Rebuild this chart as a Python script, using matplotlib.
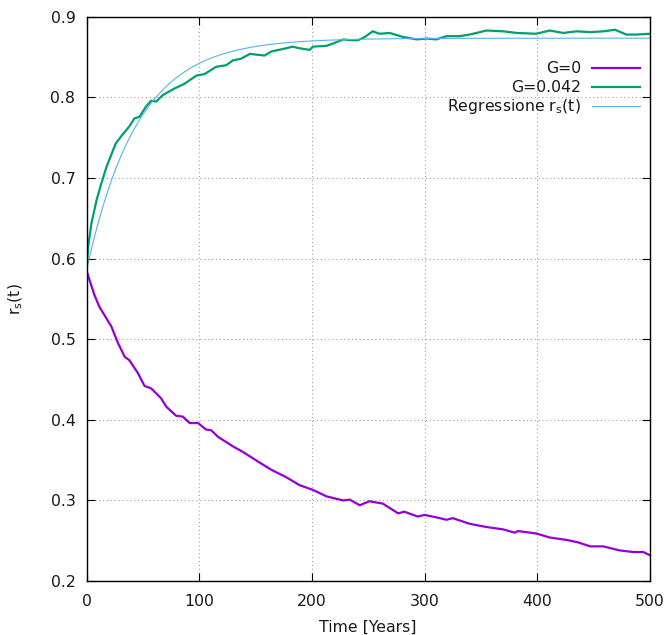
import numpy as np
import matplotlib.pyplot as plt

# Simulated fraction r_s(t) for the two runs
t_g0 = [0, 7, 11.5, 22, 28, 34, 38, 45.6, 51.5, 57.4, 66, 71, 79.6, 85.5, 91.5, 99,
        106, 110.7, 116.6, 130, 139, 153.6, 164, 177, 189, 201, 213, 227.7, 233.6,
        242.5, 251, 263, 276.5, 282, 294, 300, 310.5, 319.5, 325, 340, 355, 370,
        380, 383, 399, 411, 426, 436, 447, 458.5, 473, 485, 494, 500]
r_g0 = [0.585, 0.555, 0.540, 0.516, 0.495, 0.478, 0.474, 0.458, 0.442, 0.439, 0.427,
        0.416, 0.405, 0.404, 0.396, 0.396, 0.388, 0.387, 0.379, 0.367, 0.360, 0.347,
        0.338, 0.329, 0.319, 0.313, 0.305, 0.300, 0.301, 0.294, 0.299, 0.296, 0.284,
        0.286, 0.280, 0.282, 0.279, 0.276, 0.278, 0.271, 0.267, 0.264, 0.260, 0.262,
        0.259, 0.254, 0.251, 0.248, 0.243, 0.243, 0.238, 0.236, 0.236, 0.232]

t_g042 = [0, 1.5, 4.4, 9, 13.3, 17.8, 23.7, 26, 32, 38, 42.6, 47, 53, 57.4, 62, 67.8,
          78, 87, 97.4, 104.8, 115, 124, 130, 137, 145, 158, 164, 174, 183, 189, 198,
          201, 213, 219, 228, 233.6, 241, 247, 254, 260, 269, 281, 293, 302, 310.5,
          319.5, 331, 340, 355, 370, 381.6, 399, 411, 423, 435, 447, 458.5, 469, 479,
          488, 500]
r_g042 = [0.585, 0.615, 0.644, 0.673, 0.694, 0.714, 0.735, 0.743, 0.754, 0.764, 0.774,
          0.776, 0.789, 0.796, 0.795, 0.803, 0.811, 0.817, 0.827, 0.829, 0.838, 0.840,
          0.846, 0.848, 0.854, 0.852, 0.857, 0.860, 0.863, 0.861, 0.859, 0.863, 0.864,
          0.867, 0.872, 0.871, 0.871, 0.875, 0.882, 0.879, 0.880, 0.875, 0.872, 0.873,
          0.872, 0.876, 0.876, 0.878, 0.883, 0.882, 0.880, 0.879, 0.883, 0.880, 0.882,
          0.881, 0.882, 0.884, 0.878, 0.878, 0.879]

# Exponential fit r_s(t) = r_inf - (r_inf - r_0) * exp(-t / tau)
fit_r0 = 0.585
fit_rinf = 0.8735
fit_tau = 45.0

x_ticks = [0, 100, 200, 300, 400, 500]
y_ticks = [0.2, 0.3, 0.4, 0.5, 0.6, 0.7, 0.8, 0.9]

plt.rcParams['font.family'] = 'DejaVu Sans'
plt.rcParams['font.size'] = 11.3

fig = plt.figure(figsize=(6.68, 6.35), dpi=100)
ax = fig.add_axes([0.1295, 0.085, 0.8435, 0.8885])

t_fit = np.linspace(0, 500, 400)
r_fit = fit_rinf - (fit_rinf - fit_r0) * np.exp(-t_fit / fit_tau)

ax.plot(t_g0, r_g0, color='#9400d3', lw=1.6)
ax.plot(t_g042, r_g042, color='#009e73', lw=1.6)
ax.plot(t_fit, r_fit, color='#56b4e9', lw=0.8)

ax.set_xlim(0, 500)
ax.set_ylim(0.2, 0.9)
ax.set_xticks(x_ticks)
ax.set_yticks(y_ticks)
ax.set_yticklabels([f'{v:.1f}' for v in y_ticks])
ax.tick_params(direction='in', length=6, width=0.8, top=True, right=True,
               colors='black', labelcolor='#1a1a1a')
ax.tick_params(axis='x', pad=9)
ax.tick_params(axis='y', pad=8)
ax.grid(True, color='#a0a0a0', linestyle=(0, (1, 2.5)), linewidth=0.8)
for sp in ax.spines.values():
    sp.set_linewidth(1.0)

ax.set_xlabel('Time [Years]', labelpad=8, color='#1a1a1a')
ax.set_ylabel(r'r$_\mathregular{s}$(t)', labelpad=18, color='#1a1a1a')

# gnuplot-like key: right-aligned text with the sample line after it
key_rows = [('G=0', '#9400d3', 1.6), ('G=0.042', '#009e73', 1.6),
            (r'Regressione r$_\mathregular{s}$(t)', '#56b4e9', 0.8)]
for i, (label, col, lw) in enumerate(key_rows):
    y = 0.909 - i * 0.0337
    ax.text(0.8775, y, label, transform=ax.transAxes, ha='right', va='center',
            color='#1a1a1a')
    ax.plot([0.897, 0.983], [y, y], transform=ax.transAxes, color=col, lw=lw,
            clip_on=False)

fig.savefig('out.png', dpi=100)
